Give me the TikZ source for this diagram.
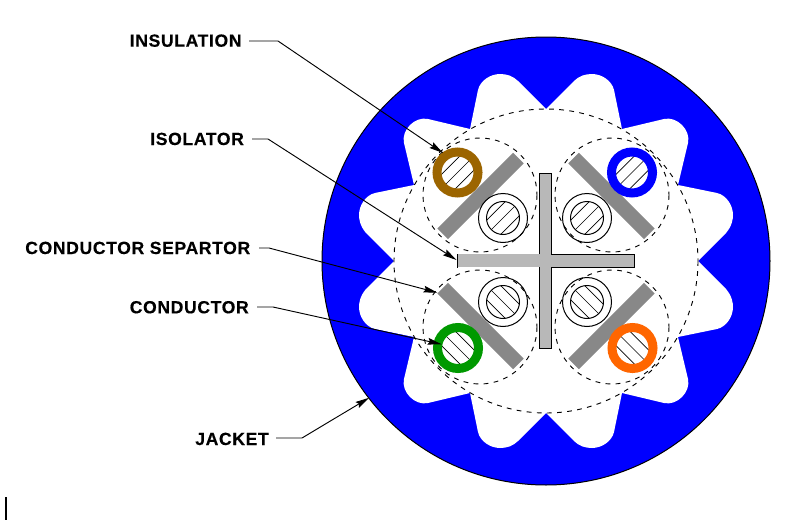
\documentclass[tikz,border=0pt]{standalone}
\usepackage{fontspec}
\setmainfont{Liberation Sans}
\newfontfamily\lblfont[LetterSpace=3.5,FakeBold=0.25]{Liberation Sans Bold}
\usetikzlibrary{arrows.meta}
\definecolor{jacketblue}{HTML}{0000FF}
\definecolor{wirebrown}{HTML}{9C6500}
\definecolor{wiregreen}{HTML}{009900}
\definecolor{wireorange}{HTML}{FF6600}
\definecolor{bargray}{HTML}{888888}
\definecolor{crossgray}{HTML}{B8B8B8}
\tikzset{
  thinline/.style={draw=black,line width=0.75pt},
  dashcircle/.style={draw=black,line width=0.7pt,dash pattern=on 3.6pt off 4pt},
  hatchline/.style={draw=black,line width=0.5pt},
  leader/.style={draw=black,line width=0.7pt},
  leaderarrow/.style={leader,-{Stealth[length=10.5pt,width=5pt,inset=1.5pt]}},
  lbl/.style={anchor=base west,inner sep=0pt,font=\lblfont\fontsize{13.2pt}{15pt}\selectfont},
  sepbar/.style={fill=bargray,draw=none},
}
\begin{document}
\begin{tikzpicture}[x=0.75pt,y=-0.75pt]
\useasboundingbox (0,0) rectangle (804,521);
\fill[white] (0,0) rectangle (804,521);
% jacket
\draw[thinline,fill=jacketblue] (546,261) circle (224);
% star-shaped inner space
\foreach \sx/\sy in {1/1,-1/1,1/-1,-1/-1}{
  \begin{scope}[shift={(546,261)},xscale=\sx,yscale=\sy]
    \fill[white] (-3,-3) -- (152,0) -- (180,28)
      .. controls (186,35) and (187,42) .. (187,46)
      .. controls (187,56) and (180,66) .. (171,68)
      -- (132,76) -- (142,118)
      .. controls (145,131) and (131,145) .. (118,142)
      -- (76,132) -- (68,171)
      .. controls (66,180) and (56,187) .. (46,187)
      .. controls (39,187) and (33,185) .. (28,180)
      -- (0,152) -- cycle;
  \end{scope}
}
% dashed circles
\draw[dashcircle] (546,261) circle (152);
\foreach \cx/\cy in {480/195,612/195,480/327,612/327}{
  \draw[dashcircle] (\cx,\cy) circle (57);
}
% separator bars
\foreach \cx/\cy/\ang in {480.6/196/45,611.4/196/-45,480.6/326/-45,611.4/326/45}{
  \fill[sepbar,rotate around={\ang:(\cx,\cy)}] (\cx-53.5,\cy-7.5) rectangle (\cx+53.5,\cy+7.5);
}
% plain conductors
\foreach \cx/\cy/\h in {503/218/1,587/218/1,503/302/-1,587/302/-1}{
  \draw[thinline] (\cx,\cy) circle (24.5);
  \draw[thinline] (\cx,\cy) circle (16.5);
  \foreach \o in {-10,0,10}{
    \pgfmathsetmacro{\hl}{\o==0 ? 16.5 : 13}
    \begin{scope}[shift={(\cx,\cy)},rotate=\h*45]
      \draw[hatchline] (-\hl,\o) -- (\hl,\o);
    \end{scope}
  }
}
% coloured wires
\foreach \cx/\cy/\h/\col in {457.5/172.5/1/wirebrown,632/172.5/1/jacketblue,458/348/-1/wiregreen,632.5/348/-1/wireorange}{
  \foreach \o in {-10,0,10}{
    \pgfmathsetmacro{\hl}{\o==0 ? 17 : 13.5}
    \begin{scope}[shift={(\cx,\cy)},rotate=\h*45]
      \draw[hatchline] (-\hl,\o) -- (\hl,\o);
    \end{scope}
  }
  \draw[draw=\col,line width=6.75pt] (\cx,\cy) circle (20.5);
}
% cross
\fill[crossgray] (457,254) rectangle (634,267);
\fill[crossgray] (539.5,173) rectangle (551.5,348);
\draw[thinline,line cap=rect] (457,254) -- (457,267);
\draw[thinline,line join=miter] (539.5,254) -- (539.5,173) -- (551.5,173) -- (551.5,254) -- (634,254) -- (634,267) -- (551.5,267) -- (551.5,348) -- (539.5,348) -- (539.5,267);
% labels
\node[lbl] (insulation) at (129.5,46.7) {INSULATION};
\node[lbl] (isolator) at (150,145) {ISOLATOR};
\node[lbl] (separtor) at (25,254) {CONDUCTOR SEPARTOR};
\node[lbl] (conductor) at (129.5,313.3) {CONDUCTOR};
\node[lbl] (jacket) at (195,445) {JACKET};
% leader anchors
\coordinate (insA) at (249,41); \coordinate (insB) at (278,41); \coordinate (insT) at (443,153);
\coordinate (isoA) at (252,139); \coordinate (isoB) at (268,139); \coordinate (isoT) at (456.5,260);
\coordinate (sepA) at (259,248); \coordinate (sepB) at (269,248); \coordinate (sepT) at (437.5,292.7);
\coordinate (conA) at (257,307); \coordinate (conB) at (273,307); \coordinate (conT) at (441.7,344.3);
\coordinate (jacA) at (276,438); \coordinate (jacB) at (302,438); \coordinate (jacT) at (369.3,397.7);
\draw[leaderarrow] (insA) -- (insB) -- (insT);
\draw[leaderarrow] (isoA) -- (isoB) -- (isoT);
\draw[leaderarrow] (sepA) -- (sepB) -- (sepT);
\draw[leaderarrow] (conA) -- (conB) -- (conT);
\draw[leaderarrow] (jacA) -- (jacB) -- (jacT);
% small stroke bottom left
\draw[black,line width=1.1pt] (6,497) -- (6,520);
\end{tikzpicture}
\end{document}
